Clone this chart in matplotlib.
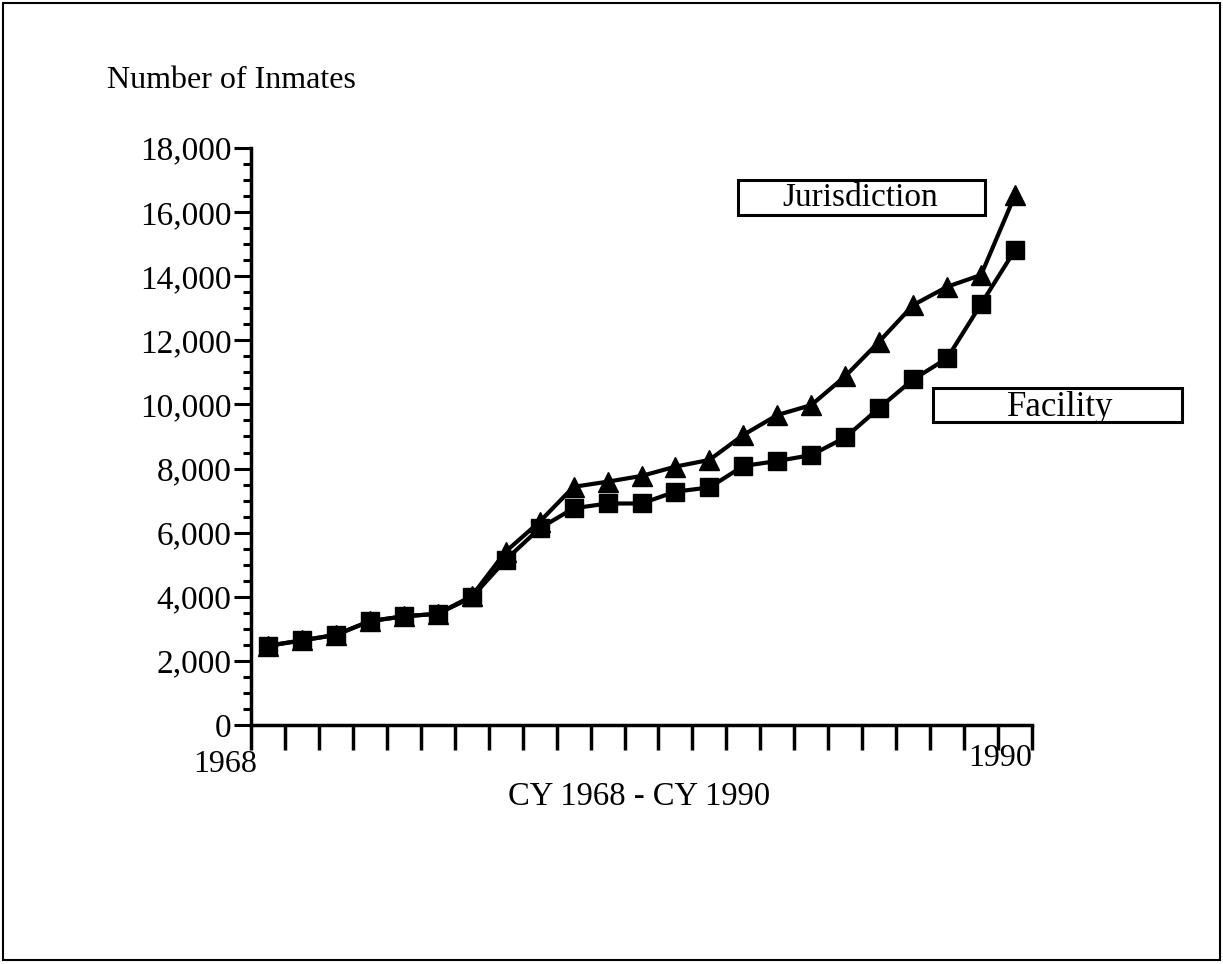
import matplotlib
matplotlib.use("Agg")
import matplotlib.pyplot as plt
from matplotlib.patches import Rectangle
from matplotlib.ticker import MultipleLocator, FuncFormatter

years = list(range(1968, 1991))
jurisdiction = [2470, 2640, 2810, 3240, 3390, 3470, 4020, 5410, 6340, 7430, 7590,
                7770, 8060, 8270, 9050, 9670, 9980, 10880, 11960, 13100, 13670, 14040, 16530]
facility = [2470, 2640, 2810, 3240, 3390, 3470, 3980, 5150, 6135, 6760, 6910,
            6910, 7280, 7410, 8080, 8235, 8420, 8970, 9890, 10780, 11440, 13130, 14820]
y_ticks = list(range(0, 18001, 2000))

W, H = 1223, 964
fig = plt.figure(figsize=(W / 100, H / 100), dpi=100)
plt.rcParams['font.family'] = ['Liberation Serif', 'DejaVu Serif']

def fx(px):
    return px / W

def fy(py):
    return 1 - py / H

left, right, top, bottom = 251, 1032, 148, 725
ax = fig.add_axes([fx(left), fy(bottom), fx(right) - fx(left), fy(top) - fy(bottom)])

idx = list(range(len(years)))
ax.plot(idx, jurisdiction, color='black', lw=3, marker='^', ms=14, zorder=3)
ax.plot(idx, facility, color='black', lw=3, marker='s', ms=13, zorder=4)

ax.set_xlim(-0.5, len(years) - 0.5)
ax.set_ylim(0, 18000)
for s in ['top', 'right']:
    ax.spines[s].set_visible(False)
for s in ['left', 'bottom']:
    ax.spines[s].set_linewidth(2.5)

ax.set_xticks([i - 0.5 for i in range(len(years) + 1)])
ax.set_xticklabels([])
ax.tick_params(axis='x', direction='out', length=18, width=2.5)

ax.set_yticks(y_ticks)
ax.yaxis.set_major_formatter(FuncFormatter(lambda v, p: f"{int(v):,}"))
ax.yaxis.set_minor_locator(MultipleLocator(500))
ax.tick_params(axis='y', which='major', direction='out', length=12, width=2.2, labelsize=24, pad=2)
ax.tick_params(axis='y', which='minor', direction='out', length=6, width=2.2)

fig.text(fx(107), fy(80), "Number of Inmates", fontsize=23, ha='left', va='center')
fig.text(fx(225), fy(765), "1968", fontsize=23, ha='center', va='center')
fig.text(fx(1000), fy(758), "1990", fontsize=23, ha='center', va='center')
fig.text(fx(639), fy(797), "CY 1968 - CY 1990", fontsize=23.5, ha='center', va='center')

# label boxes
fig.add_artist(Rectangle((fx(738), fy(215)), fx(985) - fx(738), fy(180) - fy(215),
                         transform=fig.transFigure, fill=False, lw=2.2, ec='black'))
fig.text(fx(860), fy(198), "Jurisdiction", fontsize=24, ha='center', va='center')
fig.add_artist(Rectangle((fx(933), fy(422)), fx(1182) - fx(933), fy(388) - fy(422),
                         transform=fig.transFigure, fill=False, lw=2.2, ec='black'))
fig.text(fx(1060), fy(407), "Facility", fontsize=25, ha='center', va='center')

# outer frame
fig.add_artist(Rectangle((fx(3), fy(960)), fx(1220) - fx(3), fy(3) - fy(960),
                         transform=fig.transFigure, fill=False, lw=1.5, ec='black'))

fig.savefig("out.png", dpi=100)
